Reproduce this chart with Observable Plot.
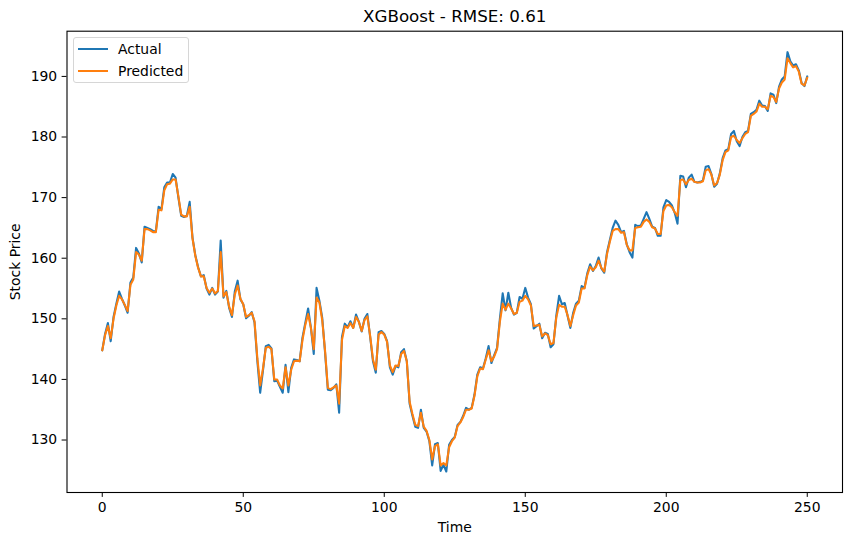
<!DOCTYPE html>
<html>
<head>
<meta charset="utf-8">
<script src="https://cdn.jsdelivr.net/npm/d3@7"></script>
<script src="https://cdn.jsdelivr.net/npm/@observablehq/plot@0.6"></script>
<style>
  html, body { margin: 0; padding: 0; background: #fff; }
  #wrap { position: relative; width: 850px; height: 545px; font-family: "DejaVu Sans", sans-serif; }
  #legend {
    position: absolute; left: 73px; top: 37px; width: 114px; height: 44px;
    border: 1px solid #d6d6d6; border-radius: 3px; background: rgba(255,255,255,0.8);
    font-size: 13.9px; color: #000;
  }
  .item { position: absolute; left: 0; height: 20px; display: flex; align-items: center; }
  .swatch { display: inline-block; width: 30px; height: 2px; margin-left: 4px; margin-right: 10px; }
</style>
</head>
<body>
<div id="wrap">
  <div id="chart"></div>
  <div id="legend"></div>
</div>
<script>
const title = "XGBoost - RMSE: 0.61";
const xLabel = "Time";
const yLabel = "Stock Price";
const seriesNames = ["Actual", "Predicted"];
const seriesColors = ["#1f77b4", "#ff7f0e"];
const xTicks = [0, 50, 100, 150, 200, 250];
const yTicks = [130, 140, 150, 160, 170, 180, 190];

const actual = [
  144.8, 147.5, 149.3, 146.3, 150.3, 152.5, 154.5, 153.3, 152.2, 151.0,
  156.0, 156.8, 161.7, 160.8, 159.3, 165.2, 165.0, 164.8, 164.5, 164.4,
  168.5, 168.1, 171.7, 172.5, 172.5, 173.9, 173.3, 170.0, 167.0, 166.8,
  167.0, 169.3, 163.4, 160.5, 158.5, 157.0, 157.2, 155.0, 154.0, 155.1,
  154.0, 154.5, 162.9, 153.5, 154.6, 151.8, 150.3, 154.5, 156.3, 153.2,
  152.4, 150.1, 150.5, 151.1, 149.4, 143.0, 137.8, 141.5, 145.5, 145.7,
  145.1, 139.7, 139.8, 138.8, 137.8, 142.4, 137.9, 141.9, 143.3, 143.2,
  143.0, 146.9, 149.3, 151.7, 148.5, 144.2, 155.1, 153.0, 150.2, 144.5,
  138.3, 138.2, 138.6, 139.2, 134.5, 147.0, 149.2, 148.6, 149.6, 148.5,
  150.7, 149.5, 147.9, 150.0, 150.8, 147.0, 143.0, 141.1, 147.8, 148.0,
  147.5, 146.3, 142.0, 140.8, 142.2, 142.0, 144.5, 145.0, 143.0, 136.0,
  134.0, 132.2, 132.0, 135.0, 132.0, 131.4, 129.8, 125.8, 129.3, 129.5,
  124.9, 125.9, 124.8, 129.2, 130.0, 130.5, 132.5, 133.0, 134.0, 135.3,
  135.0, 135.3, 137.5, 140.8, 142.0, 141.8, 143.5, 145.5, 142.7, 144.0,
  145.2, 150.0, 154.2, 151.4, 154.3, 151.8, 150.7, 151.0, 153.6, 153.3,
  155.1, 153.5, 152.4, 148.4, 148.8, 149.2, 146.8, 147.7, 147.5, 145.3,
  145.8, 150.5, 153.8, 152.4, 152.6, 150.5, 148.5, 151.0, 152.5, 153.0,
  155.4, 155.1, 157.5, 159.0, 157.9, 158.7, 160.1, 158.3, 157.6, 161.0,
  163.0, 165.0, 166.2, 165.5, 164.3, 164.5, 162.3, 161.0, 160.1, 165.5,
  165.3, 165.4, 166.5, 167.6, 166.5, 165.2, 165.0, 163.7, 163.7, 168.4,
  169.6, 169.3, 168.7, 167.5, 165.7, 173.6, 173.5, 171.7, 173.3, 173.8,
  172.6, 172.5, 172.6, 172.8, 175.1, 175.2, 173.9, 171.8, 172.3, 174.0,
  176.5, 177.8, 178.0, 180.5, 181.0, 179.3, 178.5, 180.0, 180.8, 181.0,
  183.8, 184.1, 184.5, 186.0, 185.2, 185.1, 184.3, 187.2, 187.0, 185.6,
  188.3, 189.5, 190.0, 194.0, 192.5, 191.8, 192.0, 191.0, 188.9, 188.4,
  190.0
];

const predicted = [
  144.8, 147.3, 148.8, 146.8, 150.0, 152.2, 153.8, 153.2, 152.3, 151.3,
  155.6, 156.5, 161.0, 160.6, 159.6, 164.8, 164.8, 164.6, 164.3, 164.3,
  168.0, 167.9, 171.2, 172.2, 172.3, 173.0, 173.0, 170.2, 167.2, 166.9,
  166.9, 168.5, 163.3, 160.4, 158.4, 157.0, 157.0, 155.1, 154.3, 155.0,
  154.2, 154.6, 161.0, 153.7, 154.4, 152.0, 150.6, 154.0, 155.5, 153.3,
  152.4, 150.3, 150.6, 151.0, 149.6, 143.5, 139.0, 141.8, 145.2, 145.4,
  145.0, 140.0, 140.0, 139.0, 138.5, 142.0, 139.0, 141.6, 143.0, 143.1,
  143.0, 146.5, 149.0, 150.8, 148.5, 145.0, 153.5, 152.7, 149.8, 144.8,
  138.6, 138.4, 138.7, 139.0, 136.0, 146.5, 148.8, 148.5, 149.3, 148.5,
  150.3, 149.5, 148.0, 149.8, 150.4, 147.2, 143.3, 141.6, 147.4, 147.8,
  147.4, 146.2, 142.3, 141.2, 142.3, 142.2, 144.2, 144.7, 143.0, 136.3,
  134.3, 132.5, 132.3, 134.5, 132.2, 131.5, 130.0, 126.8, 129.0, 129.3,
  125.8, 126.2, 125.8, 128.8, 129.8, 130.4, 132.3, 132.9, 133.8, 135.0,
  135.0, 135.2, 137.3, 140.5, 141.8, 141.7, 143.3, 144.8, 143.0, 143.8,
  145.0, 149.5, 152.5, 151.5, 152.5, 151.7, 150.8, 151.0, 152.8, 153.0,
  153.8, 153.2, 152.2, 148.8, 148.9, 149.0, 147.1, 147.6, 147.3, 145.8,
  146.0, 150.2, 152.3, 152.0, 152.0, 150.6, 148.8, 150.6, 152.2, 152.7,
  155.0, 155.0, 157.2, 158.6, 158.0, 158.5, 159.6, 158.4, 157.8, 160.7,
  162.7, 164.5, 164.8, 164.8, 164.2, 164.3, 162.2, 161.3, 161.3, 165.0,
  165.1, 165.2, 166.0, 166.4, 166.0, 165.1, 164.9, 164.0, 164.0, 167.8,
  168.7, 168.8, 168.4, 167.6, 167.0, 172.9, 173.0, 172.2, 172.9, 173.1,
  172.6, 172.5, 172.5, 172.7, 174.5, 174.7, 173.8, 172.0, 172.4, 173.8,
  176.2, 177.5, 177.8, 180.0, 180.2, 179.5, 179.0, 179.8, 180.5, 180.8,
  183.5, 183.8, 184.2, 185.5, 185.0, 185.0, 184.6, 186.8, 186.6, 185.8,
  188.0, 189.0, 189.5, 193.0, 192.2, 191.5, 191.7, 190.8, 188.8, 188.5,
  189.8
];

const n = actual.length;
const xPad = (n - 1) * 0.05;
const allVals = actual.concat(predicted);
const yMin = d3.min(allVals), yMax = d3.max(allVals);
const yPad = (yMax - yMin) * 0.05;

const chart = Plot.plot({
  width: 850,
  height: 545,
  marginLeft: 66.5,
  marginRight: 8,
  marginTop: 30.7,
  marginBottom: 53,
  style: { fontFamily: "DejaVu Sans, sans-serif", fontSize: "13.9px", color: "#000", background: "#fff" },
  x: { domain: [-xPad, (n - 1) + xPad] },
  y: { domain: [yMin - yPad, yMax + yPad] },
  marks: [
    Plot.axisX({ ticks: xTicks, tickSize: 4.9, tickPadding: 4.9, label: xLabel, labelAnchor: "center", labelArrow: "none", labelOffset: 39, fontSize: 13.9 }),
    Plot.axisY({ ticks: yTicks, tickSize: 4.9, tickPadding: 4.9, label: yLabel, labelAnchor: "center", labelArrow: "none", labelOffset: 57, fontSize: 13.9 }),
    Plot.lineY(actual, { stroke: seriesColors[0], strokeWidth: 2.08, strokeLinejoin: "round" }),
    Plot.lineY(predicted, { stroke: seriesColors[1], strokeWidth: 2.08, strokeLinejoin: "round" }),
    Plot.frame({ stroke: "#000", strokeWidth: 1.1 }),
    Plot.text([title], { frameAnchor: "top", dy: -9, lineAnchor: "bottom", fontSize: 16.7, fill: "#000" })
  ]
});
document.getElementById("chart").appendChild(chart);

const legend = document.getElementById("legend");
seriesNames.forEach((name, i) => {
  const item = document.createElement("div");
  item.className = "item";
  item.style.top = (1 + i * 21.5) + "px";
  const sw = document.createElement("span");
  sw.className = "swatch";
  sw.style.background = seriesColors[i];
  const label = document.createElement("span");
  label.textContent = name;
  item.appendChild(sw);
  item.appendChild(label);
  legend.appendChild(item);
});
</script>
</body>
</html>
